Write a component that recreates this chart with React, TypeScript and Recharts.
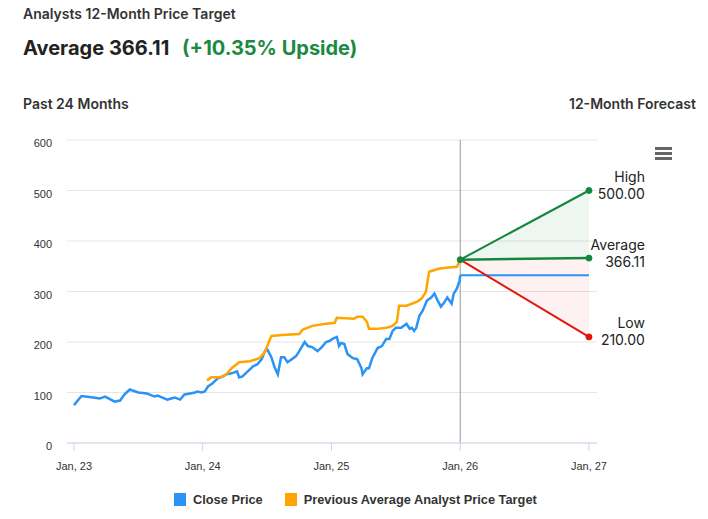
import React from 'react';
import {
  ComposedChart,
  Line,
  Area,
  XAxis,
  YAxis,
  CartesianGrid,
  ReferenceLine,
} from 'recharts';

// months since Jan 2023
const closeMonths = [
  0, 0.7, 1.8, 2.4, 2.9, 3.8, 4.3, 4.7, 4.9, 5.2, 6.0, 6.8, 7.5, 7.8, 8.7, 9.4, 9.9, 10.3, 10.8, 11.3,
  11.5, 11.9, 12.2, 12.5, 12.9, 13.4, 13.9, 14.2, 14.7, 15.2, 15.4, 15.7, 16.2, 16.7, 17.1, 17.5, 17.8,
  18.0, 18.4, 18.7, 19.0, 19.3, 19.6, 19.9, 20.3, 20.7, 21.0, 21.5, 21.8, 22.2, 22.7, 23.1, 23.5, 23.8,
  24.1, 24.5, 24.6, 24.7, 24.9, 25.2, 25.5, 26.0, 26.4, 26.8, 26.9, 27.3, 27.5, 27.8, 28.3, 28.7, 29.1,
  29.4, 29.7, 30.0, 30.5, 31.0, 31.3, 31.5, 31.7, 31.9, 32.2, 32.5, 32.9, 33.3, 33.6, 33.9, 34.2, 34.5,
  34.8, 35.2, 35.4, 35.7, 35.95, 36,
];
const closePrices = [
  75, 93, 90, 88, 92, 82, 84, 96, 100, 106, 100, 98, 92, 94, 86, 90, 86, 96, 98, 100,
  102, 100, 102, 112, 118, 128, 132, 136, 138, 142, 130, 132, 142, 152, 156, 166, 182,
  186, 170, 150, 136, 170, 170, 160, 166, 172, 182, 200, 192, 190, 182, 190, 200, 202,
  206, 210, 202, 192, 198, 196, 176, 168, 166, 148, 136, 148, 148, 168, 188, 192, 206,
  206, 222, 228, 228, 236, 226, 228, 222, 228, 252, 262, 282, 288, 296, 282, 270, 278,
  288, 276, 296, 306, 322, 332,
];

const targetMonths = [
  12.4, 12.8, 13.6, 14.2, 14.7, 15.4, 16.4, 17.3, 17.8, 18.2, 18.4, 19.4, 21.0, 21.3, 22.2, 23.5,
  24.3, 24.5, 26.1, 26.4, 26.9, 27.3, 27.5, 28.2, 29.1, 29.7, 30.1, 30.3, 31.0, 32.0, 32.4, 32.8,
  33.1, 33.4, 34.0, 34.7, 35.7, 35.9, 36,
];
const targetPrices = [
  124, 130, 130, 136, 148, 160, 162, 168, 180, 202, 212, 214, 216, 224, 232, 236,
  238, 248, 246, 250, 250, 240, 226, 226, 228, 232, 240, 272, 272, 280, 286, 299,
  339, 341, 345, 347, 349, 359, 363,
];

const forecastMonths = [36, 48];
const highTarget = [363, 500];
const avgTarget = [363, 366.11];
const lowTarget = [363, 210];
const currentPrice = [332, 332];

const yTicks = [0, 100, 200, 300, 400, 500, 600];
const xTicks = [0, 12, 24, 36, 48];

const closeData = closeMonths.map((m, i) => ({ m, close: closePrices[i] }));
const targetData = targetMonths.map((m, i) => ({ m, target: targetPrices[i] }));
const forecastData = forecastMonths.map((m, i) => ({
  m,
  high: highTarget[i],
  avg: avgTarget[i],
  low: lowTarget[i],
  current: currentPrice[i],
  upBand: [avgTarget[i], highTarget[i]],
  downBand: [lowTarget[i], avgTarget[i]],
}));

const BLUE = '#2b93f5';
const ORANGE = '#ffa500';
const GREEN = '#15863d';
const RED = '#e3140c';

const endDot = (color: string, showFirst: boolean) => (props: any) => {
  const { cx, cy, index } = props;
  if (index === 0 && !showFirst) return <g key={`d${index}`} />;
  return <circle key={`d${index}`} cx={cx} cy={cy} r={3} fill={color} stroke={color} />;
};

const endLabel = (title: string, value: string) => (props: any) => {
  const { x, y, index } = props;
  if (index !== 1) return <g key={`l${index}`} />;
  return (
    <g key={`l${index}`} fontFamily="Inter, sans-serif" fontSize={14} fill="#222">
      <text x={x + 56} y={y - 14} textAnchor="end" dominantBaseline="central">{title}</text>
      <text x={x + 56} y={y + 3} textAnchor="end" dominantBaseline="central">{value}</text>
    </g>
  );
};

const YTick = ({ x, y, payload }: any) => (
  <text x={x} y={y + 3} textAnchor="end" dominantBaseline="central" fill="#333" fontSize={11} fontFamily="Liberation Sans, Arial, sans-serif">
    {payload.value}
  </text>
);

const App = () => {
  return (
    <div style={{ position: 'absolute', left: 0, top: 0, width: 708, height: 519, background: '#fff', fontFamily: 'Inter, sans-serif' }}>
      <div style={{ position: 'absolute', left: 23, top: 5, fontSize: 14, fontWeight: 600, color: '#333' }}>
        Analysts 12-Month Price Target
      </div>
      <div style={{ position: 'absolute', left: 23, top: 36, fontSize: 20, fontWeight: 700, color: '#222', whiteSpace: 'nowrap' }}>
        Average 366.11 <span style={{ color: '#1a8a3e', marginLeft: 8 }}>(+10.35% Upside)</span>
      </div>
      <div style={{ position: 'absolute', left: 23, top: 95, fontSize: 14, fontWeight: 600, color: '#333' }}>
        Past 24 Months
      </div>
      <div style={{ position: 'absolute', right: 12, top: 95, fontSize: 14, fontWeight: 600, color: '#333' }}>
        12-Month Forecast
      </div>

      <div style={{ position: 'absolute', left: 0, top: 0 }}>
        <ComposedChart width={708} height={519} margin={{ top: 140, right: 111, bottom: 45, left: 0 }}>
          <CartesianGrid vertical={false} stroke="#e6e6e6" />
          <XAxis
            dataKey="m"
            type="number"
            domain={[-0.65, 48.75]}
            ticks={xTicks}
            allowDataOverflow
            height={31}
            tickFormatter={(m: number) => `Jan, ${23 + m / 12}`}
            axisLine={{ stroke: '#ccd6eb' }}
            tickLine={{ stroke: '#ccd6eb' }}
            tickSize={8}
            tickMargin={11}
            tick={{ fill: '#333', fontSize: 11, fontFamily: 'Liberation Sans, Arial, sans-serif' }}
          />
          <YAxis
            type="number"
            domain={[0, 600]}
            ticks={yTicks}
            width={67}
            axisLine={false}
            tickLine={false}
            tickMargin={9}
            tick={<YTick />}
          />
          <ReferenceLine x={36} stroke="#999" strokeWidth={1} />
          <Area data={forecastData} dataKey="upBand" type="linear" stroke="none" fill={GREEN} fillOpacity={0.07} isAnimationActive={false} />
          <Area data={forecastData} dataKey="downBand" type="linear" stroke="none" fill={RED} fillOpacity={0.06} isAnimationActive={false} />
          <Line data={closeData} dataKey="close" type="linear" stroke={BLUE} strokeWidth={2.5} dot={false} isAnimationActive={false} />
          <Line data={forecastData} dataKey="current" type="linear" stroke={BLUE} strokeWidth={2} dot={false} isAnimationActive={false} />
          <Line data={targetData} dataKey="target" type="linear" stroke={ORANGE} strokeWidth={2.5} dot={false} isAnimationActive={false} />
          <Line data={forecastData} dataKey="low" type="linear" stroke={RED} strokeWidth={2} dot={endDot(RED, false)} label={endLabel('Low', '210.00')} isAnimationActive={false} />
          <Line data={forecastData} dataKey="high" type="linear" stroke={GREEN} strokeWidth={2} dot={endDot(GREEN, false)} label={endLabel('High', '500.00')} isAnimationActive={false} />
          <Line data={forecastData} dataKey="avg" type="linear" stroke={GREEN} strokeWidth={2.5} dot={endDot(GREEN, true)} label={endLabel('Average', '366.11')} isAnimationActive={false} />
        </ComposedChart>
      </div>

      {/* menu icon */}
      <div style={{ position: 'absolute', left: 655, top: 147 }}>
        {[0, 5, 10].map((t) => (
          <div key={t} style={{ position: 'absolute', top: t, left: 0, width: 17, height: 3, background: '#666' }} />
        ))}
      </div>

      {/* legend */}
      <div style={{ position: 'absolute', left: 174, top: 492, display: 'flex', alignItems: 'center', fontFamily: 'Liberation Sans, Arial, sans-serif', fontSize: 12.8, fontWeight: 700, color: '#333' }}>
        <span style={{ width: 12, height: 13, background: BLUE, display: 'inline-block', marginRight: 7 }} />
        <span>Close Price</span>
        <span style={{ width: 12, height: 13, background: ORANGE, display: 'inline-block', marginLeft: 22, marginRight: 7 }} />
        <span>Previous Average Analyst Price Target</span>
      </div>
    </div>
  );
};

export default App;
